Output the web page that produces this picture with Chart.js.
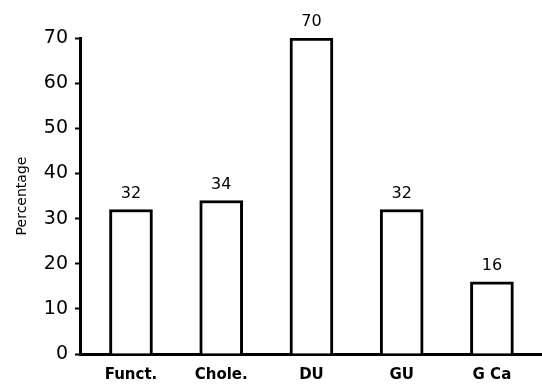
<!DOCTYPE html>
<html lang="en">
<head>
  <meta charset="UTF-8">
  <title>Percentage by group</title>
  <style>
    body {
      margin: 0;
      padding: 0;
      background: #fff;
    }
    .chart-box {
      width: 542px;
      height: 384px;
    }
  </style>
</head>
<body>
  <div class="chart-box">
    <canvas id="barChart" width="542" height="384"></canvas>
  </div>

  <script src="https://cdn.jsdelivr.net/npm/chart.js"></script>
  <script>
    // values
    var categories = ['Funct.', 'Chole.', 'DU', 'GU', 'G Ca'];
    var percentages = [32, 34, 70, 32, 16];
    var yTicks = [0, 10, 20, 30, 40, 50, 60, 70];

    var ink = '#000';
    var font = 'DejaVu Sans, sans-serif';

    // numbers written above each bar
    var barValues = {
      id: 'barValues',
      afterDatasetsDraw: function(chart) {
        var ctx = chart.ctx;
        var meta = chart.getDatasetMeta(0);
        ctx.save();
        ctx.fillStyle = ink;
        ctx.font = '16px ' + font;
        ctx.textAlign = 'center';
        ctx.textBaseline = 'bottom';
        meta.data.forEach(function(bar, i) {
          ctx.fillText(String(percentages[i]), bar.x, bar.y - 8);
        });
        ctx.restore();
      }
    };

    var ctx = document.getElementById('barChart').getContext('2d');
    var chart = new Chart(ctx, {
      type: 'bar',
      data: {
        datasets: [{
          data: percentages.map(function(v, i) { return { x: i, y: v }; }),
          backgroundColor: '#fff',
          borderColor: ink,
          borderWidth: 3,
          borderSkipped: 'bottom',
          barThickness: 43
        }]
      },
      options: {
        responsive: false,
        animation: false,
        layout: { padding: { top: 38, right: 0, left: 0, bottom: 0 } },
        plugins: {
          legend: { display: false },
          tooltip: { enabled: false }
        },
        scales: {
          x: {
            type: 'linear',
            offset: false,
            min: -0.565,
            max: 4.555,
            afterFit: function(scale) { scale.height = 30; },
            grid: { display: false },
            border: { display: true, color: ink, width: 3 },
            ticks: {
              stepSize: 1,
              includeBounds: false,
              color: ink,
              padding: 4,
              maxRotation: 0,
              autoSkip: false,
              font: { family: font, size: 15, weight: '600' },
              callback: function(v) {
                return Number.isInteger(v) ? categories[v] : '';
              }
            }
          },
          y: {
            min: 0,
            max: 70,
            afterFit: function(scale) { scale.width = 80; },
            afterBuildTicks: function(scale) {
              scale.ticks = yTicks.map(function(v) { return { value: v }; });
            },
            grid: {
              drawOnChartArea: false,
              drawTicks: true,
              tickLength: 5,
              tickColor: ink,
              tickWidth: 2
            },
            border: { display: true, color: ink, width: 3 },
            ticks: {
              color: ink,
              padding: 7,
              font: { family: font, size: 19 }
            },
            title: {
              display: true,
              text: 'Percentage',
              color: ink,
              padding: { top: 14, bottom: 4 },
              font: { family: font, size: 14 }
            }
          }
        }
      },
      plugins: [barValues]
    });
  </script>
</body>
</html>
